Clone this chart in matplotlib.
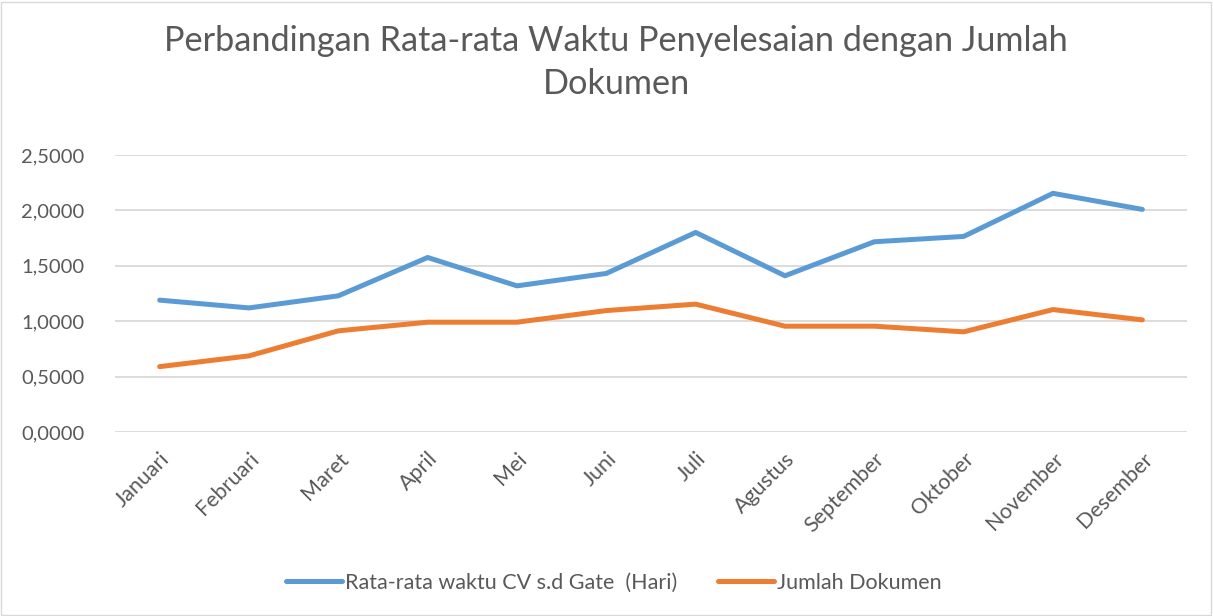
import matplotlib.pyplot as plt
import matplotlib.patches as mplpatches
from matplotlib.ticker import FuncFormatter

# data
months = ['Januari', 'Februari', 'Maret', 'April', 'Mei', 'Juni', 'Juli',
          'Agustus', 'September', 'Oktober', 'November', 'Desember']
rataWaktu = [1.190, 1.120, 1.229, 1.575, 1.319, 1.431, 1.801,
             1.410, 1.717, 1.765, 2.154, 2.009]
jumlahDok = [0.590, 0.687, 0.913, 0.991, 0.991, 1.096, 1.154,
             0.955, 0.955, 0.904, 1.105, 1.012]
yTicks = [0, 0.5, 1.0, 1.5, 2.0, 2.5]

plt.rcParams['font.family'] = ['Lato', 'DejaVu Sans']

figureWidth = 12.13
figureHeight = 6.16
fig = plt.figure(figsize=(figureWidth, figureHeight), dpi=100)

# outer chart border
fig.patches.append(mplpatches.Rectangle((0.001, 0.002), 0.997, 0.994,
                                        transform=fig.transFigure,
                                        fill=False, edgecolor='#D9D9D9',
                                        linewidth=1))

# panel position in pixels -> fraction
left, right, top, bottom = 115, 1187, 155, 432
ax = fig.add_axes([left/1213, (616-bottom)/616, (right-left)/1213, (bottom-top)/616])

textColor = '#595959'
blue = '#5B9BD5'
orange = '#ED7D31'

x = list(range(len(months)))
ax.plot(x, rataWaktu, color=blue, linewidth=3.6, solid_capstyle='round',
        solid_joinstyle='round', label='Rata-rata waktu CV s.d Gate  (Hari)', zorder=3)
ax.plot(x, jumlahDok, color=orange, linewidth=3.6, solid_capstyle='round',
        solid_joinstyle='round', label='Jumlah Dokumen', zorder=3)

ax.set_xlim(-0.5, len(months) - 0.5)
ax.set_ylim(0, 2.5)
ax.set_yticks(yTicks)
ax.yaxis.set_major_formatter(FuncFormatter(lambda v, p: ('%.4f' % v).replace('.', ',')))
ax.grid(axis='y', color='#D9D9D9', linewidth=1.3, zorder=0)
ax.set_axisbelow(True)
for s in ax.spines.values():
    s.set_visible(False)
ax.tick_params(length=0, labelsize=14.5, colors=textColor)
ax.tick_params(axis='y', pad=22)

ax.set_xticks(x)
ax.set_xticklabels(months, rotation=45, ha='right', rotation_mode='anchor')
ax.tick_params(axis='x', pad=12, labelsize=15.5)

fig.text(0.508, 0.96, 'Perbandingan Rata-rata Waktu Penyelesaian dengan Jumlah\nDokumen',
         ha='center', va='top', fontsize=24.7, color=textColor, linespacing=1.42)

leg = fig.legend(loc='center', bbox_to_anchor=(0.506, 0.054), ncol=2, frameon=False,
                 fontsize=15.5, handlelength=2.6, handletextpad=0.15, columnspacing=1.9)
for t in leg.get_texts():
    t.set_color(textColor)

plt.savefig('out.png', dpi=100)
